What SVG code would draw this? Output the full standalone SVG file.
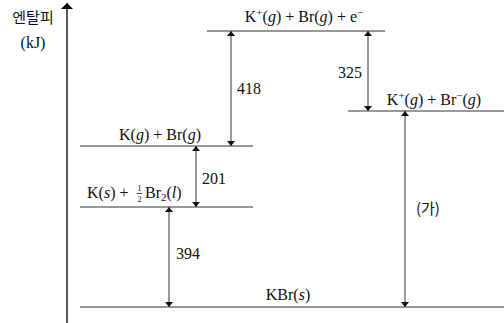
<svg xmlns="http://www.w3.org/2000/svg" width="504" height="323" viewBox="0 0 504 323">
<style>
.lvl{stroke:#333;stroke-width:1.2;fill:none}
.arr{stroke:#333;stroke-width:1;fill:none;marker-start:url(#ah);marker-end:url(#ah)}
.t{font-family:"Liberation Serif","Times New Roman",serif;font-size:16px;fill:#111}
.k{font-family:"Noto Sans CJK KR","Noto Sans",sans-serif;font-size:15px;fill:#111}
.s{font-size:11px}
.f{font-size:8px}
</style>
<defs>
<marker id="ah" viewBox="0 0 10 10" refX="10" refY="5" markerWidth="5" markerHeight="8" markerUnits="userSpaceOnUse" orient="auto-start-reverse" preserveAspectRatio="none">
<path d="M0,0 L10,5 L0,10 Z" fill="#111"/>
</marker>
<marker id="ax" viewBox="0 0 10 10" refX="10" refY="5" markerWidth="6" markerHeight="12" markerUnits="userSpaceOnUse" orient="auto" preserveAspectRatio="none">
<path d="M0,0 L10,5 L0,10 Z" fill="#000"/>
</marker>
</defs>
<g id="axis">
<line x1="67" y1="323" x2="67" y2="3" stroke="#000" stroke-width="1.3" marker-end="url(#ax)"/>
<text class="k" x="33" y="23" text-anchor="middle">엔탈피</text>
<text class="t" x="33" y="48" text-anchor="middle" font-size="14">(kJ)</text>
</g>
<g id="level-top">
<line class="lvl" x1="207" y1="31" x2="385" y2="31"/>
<text class="t" x="304" y="22" text-anchor="middle">K<tspan class="s" dy="-6">+</tspan><tspan dy="6">(</tspan><tspan font-style="italic">g</tspan>) + Br(<tspan font-style="italic">g</tspan>) + e<tspan class="s" dy="-6">−</tspan></text>
</g>
<g id="level-ions">
<line class="lvl" x1="348" y1="111" x2="504" y2="111"/>
<text class="t" x="434" y="105" text-anchor="middle">K<tspan class="s" dy="-6">+</tspan><tspan dy="6">(</tspan><tspan font-style="italic">g</tspan>) + Br<tspan class="s" dy="-6">−</tspan><tspan dy="6">(</tspan><tspan font-style="italic">g</tspan>)</text>
</g>
<g id="level-gas">
<line class="lvl" x1="80" y1="146" x2="253" y2="146"/>
<text class="t" x="160" y="140" text-anchor="middle">K(<tspan font-style="italic">g</tspan>) + Br(<tspan font-style="italic">g</tspan>)</text>
</g>
<g id="level-elements">
<line class="lvl" x1="80" y1="207" x2="253" y2="207"/>
<text class="t" x="87" y="198">K(<tspan font-style="italic">s</tspan>) +<tspan class="f" x="137.5" dy="-7">1</tspan><tspan class="f" x="137.5" dy="11">2</tspan><tspan x="145" dy="-4">Br</tspan><tspan class="s" dy="3">2</tspan><tspan dy="-3">(</tspan><tspan font-style="italic">l</tspan>)</text>
<line x1="136.5" y1="193.5" x2="142.5" y2="193.5" stroke="#111" stroke-width="0.7"/>
</g>
<g id="level-kbr">
<line class="lvl" x1="80" y1="307" x2="504" y2="307"/>
<text class="t" x="288" y="300" text-anchor="middle">KBr(<tspan font-style="italic">s</tspan>)</text>
</g>
<g id="connectors">
<line class="arr" x1="231" y1="31" x2="231" y2="146"/>
<line class="arr" x1="368" y1="31" x2="368" y2="111"/>
<line class="arr" x1="196" y1="146" x2="196" y2="207"/>
<line class="arr" x1="169" y1="207" x2="169" y2="307"/>
<line class="arr" x1="405" y1="111" x2="405" y2="307"/>
<text class="t" x="237" y="94">418</text>
<text class="t" x="338" y="78">325</text>
<text class="t" x="202" y="184">201</text>
<text class="t" x="176" y="259">394</text>
<text class="k" x="416" y="214" font-size="17">(가)</text>
</g>
</svg>
